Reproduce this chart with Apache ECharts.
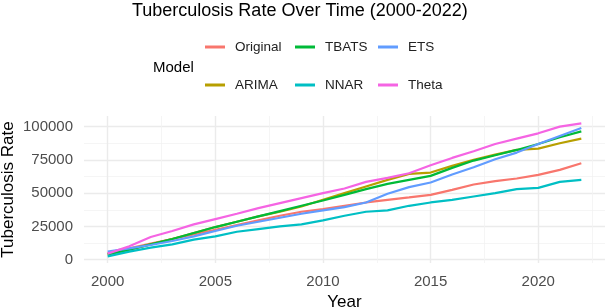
<!DOCTYPE html>
<html lang="en">
<head>
    <meta charset="UTF-8" />
    <title>Tuberculosis Rate Over Time</title>
    <script src="https://cdn.jsdelivr.net/npm/echarts@6/dist/echarts.min.js"></script>
    <style>
        body { margin: 0; background: #fff; }
    </style>
</head>
<body>
    <div id="chart" style="width:606px;height:308px;"></div>
    <script type="text/javascript">
        // data
        var years = [2000, 2001, 2002, 2003, 2004, 2005, 2006, 2007, 2008, 2009, 2010, 2011,
            2012, 2013, 2014, 2015, 2016, 2017, 2018, 2019, 2020, 2021, 2022];
        var original = [5000, 8500, 12000, 15500, 19000, 22500, 26000, 29500, 33000, 36000, 38000, 40500,
            43000, 45000, 46800, 48700, 52500, 56500, 59000, 61000, 63800, 67500, 72500];
        var arima = [4000, 7500, 11500, 15500, 20000, 24500, 28500, 32500, 36000, 40000, 45000, 50000,
            55000, 60000, 64500, 65500, 70500, 75000, 79000, 82500, 83500, 87500, 91000];
        var tbats = [4000, 7500, 11500, 15500, 20000, 24500, 28500, 32500, 36500, 40500, 44500, 48750,
            53000, 57000, 60000, 63000, 69000, 74500, 78500, 82500, 87000, 92000, 96500];
        var nnar = [2500, 6000, 9000, 11500, 15000, 17500, 21000, 23000, 25000, 26500, 29500, 33000,
            36000, 37000, 40500, 43000, 45000, 47500, 50000, 53000, 54000, 58500, 60000];
        var ets = [6000, 8500, 11000, 14000, 17500, 21500, 25500, 28500, 31500, 34500, 37000, 39500,
            43000, 49500, 54500, 58000, 64000, 69500, 75500, 80500, 87000, 93000, 99000];
        var theta = [4500, 10000, 17000, 21500, 26500, 30500, 34500, 38750, 42500, 46250, 50000, 53500,
            58500, 61500, 65000, 71000, 76500, 81500, 87000, 91000, 95000, 100000, 102500];

        var models = ['Original', 'ARIMA', 'TBATS', 'NNAR', 'ETS', 'Theta'];
        var values = [original, arima, tbats, nnar, ets, theta];
        var colors = ['#F8766D', '#B79F00', '#00BA38', '#00BFC4', '#619CFF', '#F564E3'];

        var xTicks = [2000, 2005, 2010, 2015, 2020];
        var xMinor = [2002.5, 2007.5, 2012.5, 2017.5, 2022.5];
        var yTicks = [0, 25000, 50000, 75000, 100000];
        var yMinor = [12500, 37500, 62500, 87500];

        var font = 'Liberation Sans';
        var chart = echarts.init(document.getElementById('chart'));

        // legend: 3 columns x 2 rows, one legend per key
        var legendLeft = [205, 295, 378];
        var legendTop = [40, 78];
        var legends = [];
        for (var i = 0; i < models.length; i++) {
            legends.push({
                data: [models[i]],
                left: legendLeft[Math.floor(i / 2)],
                top: legendTop[i % 2],
                padding: 0,
                icon: 'rect',
                itemWidth: 20,
                itemHeight: 3,
                textStyle: {
                    fontFamily: font,
                    fontSize: 13.5,
                    color: '#222',
                    padding: [0, 0, 0, 5]
                }
            });
        }

        var series = [];
        for (var s = 0; s < models.length; s++) {
            var pts = [];
            for (var k = 0; k < years.length; k++) {
                pts.push([years[k], values[s][k]]);
            }
            series.push({
                name: models[s],
                type: 'line',
                data: pts,
                showSymbol: false,
                symbol: 'none',
                color: colors[s],
                lineStyle: { width: 2.2 }
            });
        }

        var plain = function (v) { return String(v); };

        var option = {
            animation: false,
            title: [{
                text: 'Tuberculosis Rate Over Time (2000-2022)',
                left: 132,
                top: 2,
                padding: 0,
                textStyle: { fontFamily: font, fontSize: 18, fontWeight: 'normal', color: '#000' }
            }, {
                text: 'Model',
                left: 153,
                top: 60,
                padding: 0,
                textStyle: { fontFamily: font, fontSize: 15, fontWeight: 'normal', color: '#000' }
            }],
            legend: legends,
            grid: { left: 84, right: 1, top: 116, bottom: 45, outerBoundsMode: 'none', containLabel: false },
            xAxis: [{
                type: 'value',
                min: 1998.9,
                max: 2023.1,
                name: 'Year',
                nameLocation: 'middle',
                nameGap: 31,
                nameMoveOverlap: false,
                nameTextStyle: { fontFamily: font, fontSize: 17, color: '#000' },
                axisLine: { show: false },
                axisTick: { show: false, customValues: xTicks },
                axisLabel: {
                    customValues: xTicks,
                    margin: 11,
                    fontFamily: font,
                    fontSize: 15,
                    color: '#4d4d4d',
                    formatter: plain
                },
                splitLine: { show: true, lineStyle: { color: '#ebebeb', width: 1.4 } }
            }, {
                type: 'value',
                min: 1998.9,
                max: 2023.1,
                position: 'bottom',
                axisLine: { show: false },
                axisTick: { show: false, customValues: xMinor },
                axisLabel: { show: false },
                splitLine: { show: true, lineStyle: { color: '#f2f2f2', width: 0.8 } }
            }],
            yAxis: [{
                type: 'value',
                min: -2525,
                max: 108025,
                name: 'Tuberculosis Rate',
                nameLocation: 'middle',
                nameGap: 67,
                nameMoveOverlap: false,
                nameTextStyle: { fontFamily: font, fontSize: 17, color: '#000' },
                axisLine: { show: false },
                axisTick: { show: false, customValues: yTicks },
                axisLabel: {
                    customValues: yTicks,
                    margin: 11,
                    fontFamily: font,
                    fontSize: 15,
                    color: '#4d4d4d',
                    formatter: plain
                },
                splitLine: { show: true, lineStyle: { color: '#ebebeb', width: 1.4 } }
            }, {
                type: 'value',
                min: -2525,
                max: 108025,
                position: 'left',
                axisLine: { show: false },
                axisTick: { show: false, customValues: yMinor },
                axisLabel: { show: false },
                splitLine: { show: true, lineStyle: { color: '#f2f2f2', width: 0.8 } }
            }],
            series: series
        };

        chart.setOption(option, true);
    </script>
</body>
</html>
